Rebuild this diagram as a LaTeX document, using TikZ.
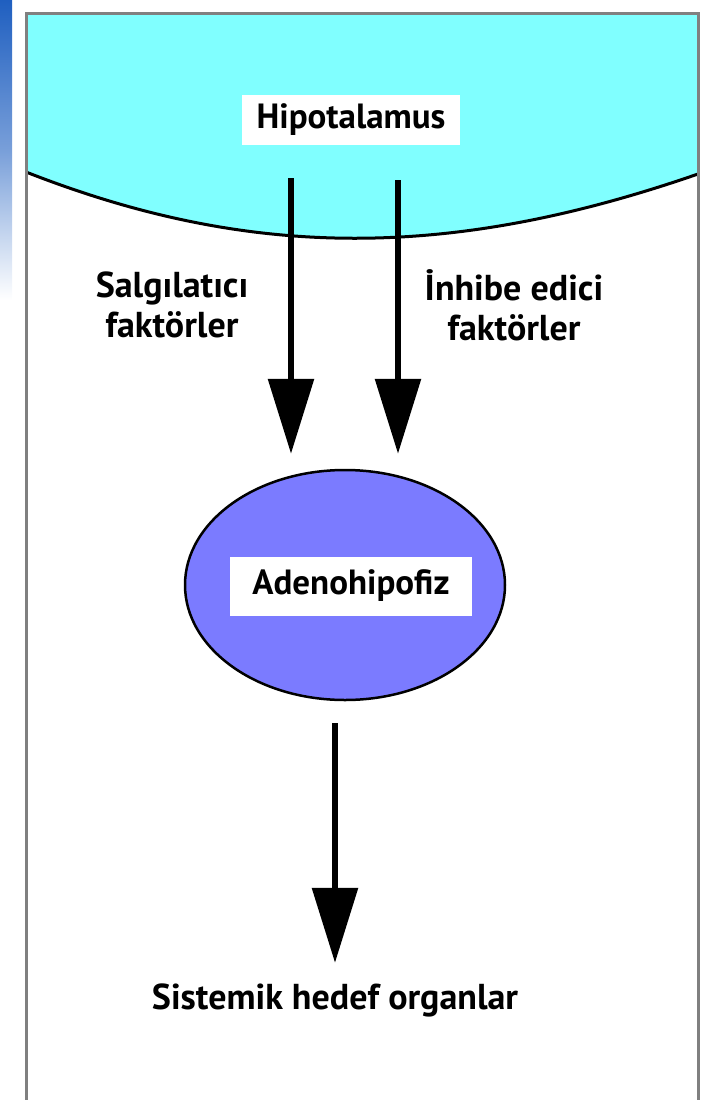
\documentclass[tikz,border=0pt]{standalone}
\usepackage{fontspec}
\setmainfont{PT Sans}
\usetikzlibrary{positioning, arrows.meta, shapes.geometric}

\definecolor{hypocyan}{HTML}{80FFFF}
\definecolor{adenoblue}{HTML}{7B7BFF}
\definecolor{framegray}{HTML}{808080}
\definecolor{slideblue}{HTML}{1F5FC0}

\begin{document}
\begin{tikzpicture}[x=1pt, y=-1pt,
    whitebox/.style={rectangle, fill=white, font=\bfseries\fontsize{35}{40}\selectfont},
    factor/.style={align=center, font=\bfseries\fontsize{36}{40}\selectfont},
    bigarrow/.style={line width=6pt, -{Triangle[length=75pt, width=45pt]}}]
    \useasboundingbox (0,0) rectangle (707,1100);

    % slide edge and frame
    \shade[top color=slideblue, bottom color=white, middle color=slideblue!60] (0,0) rectangle (12,300);
    \fill[hypocyan] (26,13) -- (698,13) -- (698,174) .. controls (450,260) and (250,260) .. (26,172) -- cycle;
    \draw[line width=3pt] (698,174) .. controls (450,260) and (250,260) .. (26,172);
    \draw[framegray, line width=3pt] (26,1105) -- (26,13) -- (698,13) -- (698,1105);

    % Nodes
    \node (hypo) [whitebox, minimum width=218pt, minimum height=50pt] at (351,120) {Hipotalamus};
    \node (adeno) [ellipse, draw, line width=2.5pt, fill=adenoblue, minimum width=320pt, minimum height=230pt] at (345,585) {};
    \node (adenotxt) [whitebox, minimum width=242pt, minimum height=59pt] at (351,586) {Adenohipofiz};
    \node (releasing) [factor] at (172,305) {Salgılatıcı\\faktörler};
    \node (inhibiting) [factor] at (514,305) {İnhibe edici\\faktörler};
    \node (target) [factor] at (335,1000) {Sistemik hedef organlar};
    \coordinate (relstart) at (291,178);
    \coordinate (inhstart) at (398,180);

    % Arrows
    \draw[bigarrow, shorten >=15pt] (relstart) -- (relstart |- adeno.north);
    \draw[bigarrow, shorten >=15pt] (inhstart) -- (inhstart |- adeno.north);
    \draw[bigarrow, shorten <=22pt, shorten >=17pt] (adeno.south -| target.north) -- (target.north);
\end{tikzpicture}
\end{document}
